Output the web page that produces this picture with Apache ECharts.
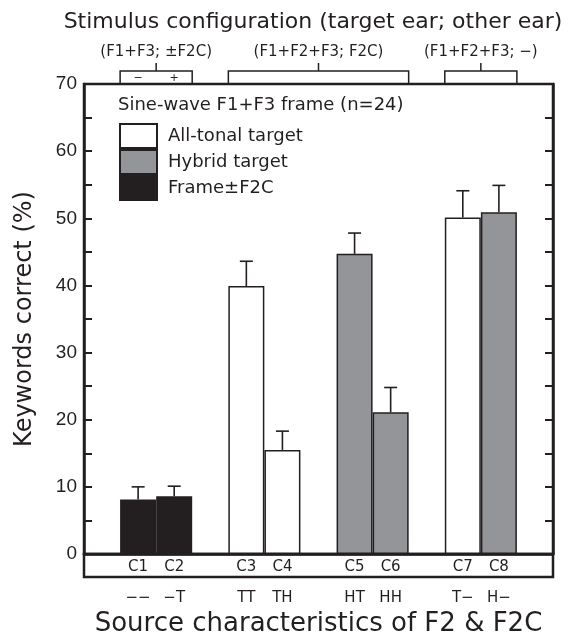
<!DOCTYPE html>
<html>
<head>
<meta charset="utf-8">
<script src="https://cdn.jsdelivr.net/npm/echarts@6/dist/echarts.min.js"></script>
<style>
  html, body { margin: 0; padding: 0; background: #fff; }
  #main { width: 574px; height: 636px; }
</style>
</head>
<body>
<div id="main"></div>
<script>
// conditions, in plotting order
var conditions = ['C1', 'C2', 'C3', 'C4', 'C5', 'C6', 'C7', 'C8'];
var sourceLabels = ['\u2212\u2212', '\u2212T', 'TT', 'TH', 'HT', 'HH', 'T\u2212', 'H\u2212'];
var targetType = ['frame', 'frame', 'tonal', 'tonal', 'hybrid', 'hybrid', 'tonal', 'hybrid'];
var means = [8.1, 8.6, 39.9, 15.5, 44.7, 21.1, 50.1, 50.9];
var errs = [1.9, 1.5, 3.7, 2.8, 3.1, 3.7, 4.0, 4.0];
var yTicks = [0, 10, 20, 30, 40, 50, 60, 70];

// stimulus configuration brackets (first, last condition index)
var brackets = [
  { from: 0, to: 1, label: '(F1+F3; \u00b1F2C)', marks: ['\u2212', '+'] },
  { from: 2, to: 5, label: '(F1+F2+F3; F2C)', marks: null },
  { from: 6, to: 7, label: '(F1+F2+F3; \u2212)', marks: null }
];

var INK = '#231f20';
var GREY = '#939598';
var FONT = 'DejaVu Sans';

// pairs separated by an empty slot, with empty slots at both ends
function slotOf(i) { return 1 + i + Math.floor(i / 2); }
var nSlots = slotOf(conditions.length - 1) + 2;
var slots = [];
for (var s = 0; s < nSlots; s++) slots.push('gap' + s);
conditions.forEach(function (c, i) { slots[slotOf(i)] = c; });

function seriesData(type) {
  var d = slots.map(function () { return '-'; });
  conditions.forEach(function (c, i) {
    if (targetType[i] === type) d[slotOf(i)] = means[i];
  });
  return d;
}
var errData = conditions.map(function (c, i) { return [slotOf(i), means[i], errs[i]]; });

var chart = echarts.init(document.getElementById('main'));

var barCommon = {
  type: 'bar',
  xAxisIndex: 0,
  yAxisIndex: 0,
  barWidth: 36,
  barGap: '-100%',
  animation: false
};

chart.setOption({
  animation: false,
  grid: [
    { left: 84, top: 84, width: 469, bottom: 82, outerBoundsMode: 'none', containLabel: false,
      show: true, borderColor: INK, borderWidth: 2.5, backgroundColor: 'transparent' },
    { left: 84, top: 554, width: 469, height: 23, outerBoundsMode: 'none', containLabel: false,
      show: true, borderColor: INK, borderWidth: 2.5, backgroundColor: 'transparent' }
  ],
  legend: {
    left: 119,
    top: 123,
    padding: 0,
    orient: 'vertical',
    itemWidth: 37,
    itemHeight: 24,
    itemGap: 0,
    icon: 'rect',
    data: ['All-tonal target', 'Hybrid target', 'Frame\u00b1F2C'],
    textStyle: { fontFamily: FONT, fontSize: 18, color: INK, padding: [0, 0, 0, 6] }
  },
  xAxis: [
    {
      type: 'category', gridIndex: 0, data: slots, position: 'bottom',
      axisLine: { show: true, onZero: false, lineStyle: { color: INK, width: 2.5 } },
      axisTick: { show: false },
      axisLabel: {
        interval: 0, margin: 6, fontFamily: FONT, fontSize: 15, color: INK,
        formatter: function (v) { return conditions.indexOf(v) >= 0 ? v : ''; }
      }
    },
    {
      type: 'category', gridIndex: 0, data: slots, position: 'bottom',
      axisLine: { show: false },
      axisTick: { show: false },
      axisLabel: {
        interval: 0, margin: 37, fontFamily: FONT, fontSize: 15, color: INK,
        formatter: function (v) {
          var i = conditions.indexOf(v);
          return i >= 0 ? sourceLabels[i] : '';
        }
      },
      name: 'Source characteristics of F2 & F2C',
      nameLocation: 'middle',
      nameGap: 56,
      nameTextStyle: { fontFamily: FONT, fontSize: 26, color: INK }
    },
    { type: 'category', gridIndex: 1, data: slots, show: false }
  ],
  yAxis: [
    {
      type: 'value', gridIndex: 0, min: 0, max: 70, interval: 5, position: 'left',
      axisLine: { show: true, lineStyle: { color: INK, width: 2.5 } },
      axisTick: { show: true, inside: true, length: 8, lineStyle: { color: INK, width: 2 } },
      splitLine: { show: false },
      axisLabel: {
        margin: 7, fontFamily: 'Liberation Sans', fontSize: 19, color: INK,
        formatter: function (v) { return yTicks.indexOf(v) >= 0 ? String(v) : ''; }
      },
      name: 'Keywords correct (%)',
      nameLocation: 'middle',
      nameGap: 47,
      nameTextStyle: { fontFamily: FONT, fontSize: 24, color: INK }
    },
    {
      type: 'value', gridIndex: 0, min: 0, max: 70, interval: 5, position: 'right',
      axisLine: { show: true, lineStyle: { color: INK, width: 2.5 } },
      axisTick: { show: true, inside: true, length: 8, lineStyle: { color: INK, width: 2 } },
      splitLine: { show: false },
      axisLabel: { show: false }
    },
    { type: 'value', gridIndex: 1, show: false }
  ],
  series: [
    Object.assign({}, barCommon, {
      name: 'All-tonal target', data: seriesData('tonal'),
      itemStyle: { color: '#ffffff', borderColor: INK, borderWidth: 1.5 }
    }),
    Object.assign({}, barCommon, {
      name: 'Hybrid target', data: seriesData('hybrid'),
      itemStyle: { color: GREY, borderColor: INK, borderWidth: 1.5 }
    }),
    Object.assign({}, barCommon, {
      name: 'Frame\u00b1F2C', data: seriesData('frame'),
      itemStyle: { color: INK, borderColor: INK, borderWidth: 1.5 }
    }),
    {
      type: 'custom',
      name: 'err',
      xAxisIndex: 0,
      yAxisIndex: 0,
      data: errData,
      z: 5,
      renderItem: function (params, api) {
        var x = api.value(0);
        var lo = api.coord([x, api.value(1)]);
        var hi = api.coord([x, api.value(1) + api.value(2)]);
        var st = { stroke: INK, lineWidth: 1.6 };
        return {
          type: 'group',
          children: [
            { type: 'line', shape: { x1: lo[0], y1: lo[1], x2: hi[0], y2: hi[1] }, style: st },
            { type: 'line', shape: { x1: hi[0] - 6.5, y1: hi[1], x2: hi[0] + 6.5, y2: hi[1] }, style: st }
          ]
        };
      }
    }
  ]
});

// annotations above the plot, placed from the category scale
var graphics = [
  {
    type: 'text', x: 313, y: 22,
    style: { text: 'Stimulus configuration (target ear; other ear)', font: '22px "DejaVu Sans"', fill: INK, align: 'center', verticalAlign: 'middle' }
  },
  {
    type: 'text', x: 118, y: 105,
    style: { text: 'Sine-wave F1+F3 frame (n=24)', font: '18px "DejaVu Sans"', fill: INK, align: 'left', verticalAlign: 'middle' }
  }
];
var half = 18;
brackets.forEach(function (b) {
  var x0 = chart.convertToPixel({ xAxisIndex: 0 }, slotOf(b.from)) - half;
  var x1 = chart.convertToPixel({ xAxisIndex: 0 }, slotOf(b.to)) + half;
  var cx = (x0 + x1) / 2;
  graphics.push({
    type: 'polyline',
    shape: { points: [[x0, 84], [x0, 71], [x1, 71], [x1, 84]] },
    style: { stroke: INK, lineWidth: 1.5, fill: null }
  });
  graphics.push({
    type: 'line',
    shape: { x1: cx, y1: 63, x2: cx, y2: 71 },
    style: { stroke: INK, lineWidth: 1.5 }
  });
  graphics.push({
    type: 'text', x: cx, y: 52,
    style: { text: b.label, font: '15px "DejaVu Sans"', fill: INK, align: 'center', verticalAlign: 'middle' }
  });
  if (b.marks) {
    b.marks.forEach(function (m, k) {
      graphics.push({
        type: 'text', x: chart.convertToPixel({ xAxisIndex: 0 }, slotOf(b.from + k)), y: 78,
        style: { text: m, font: '11px "DejaVu Sans"', fill: INK, align: 'center', verticalAlign: 'middle' }
      });
    });
  }
});
chart.setOption({ graphic: graphics });
</script>
</body>
</html>
